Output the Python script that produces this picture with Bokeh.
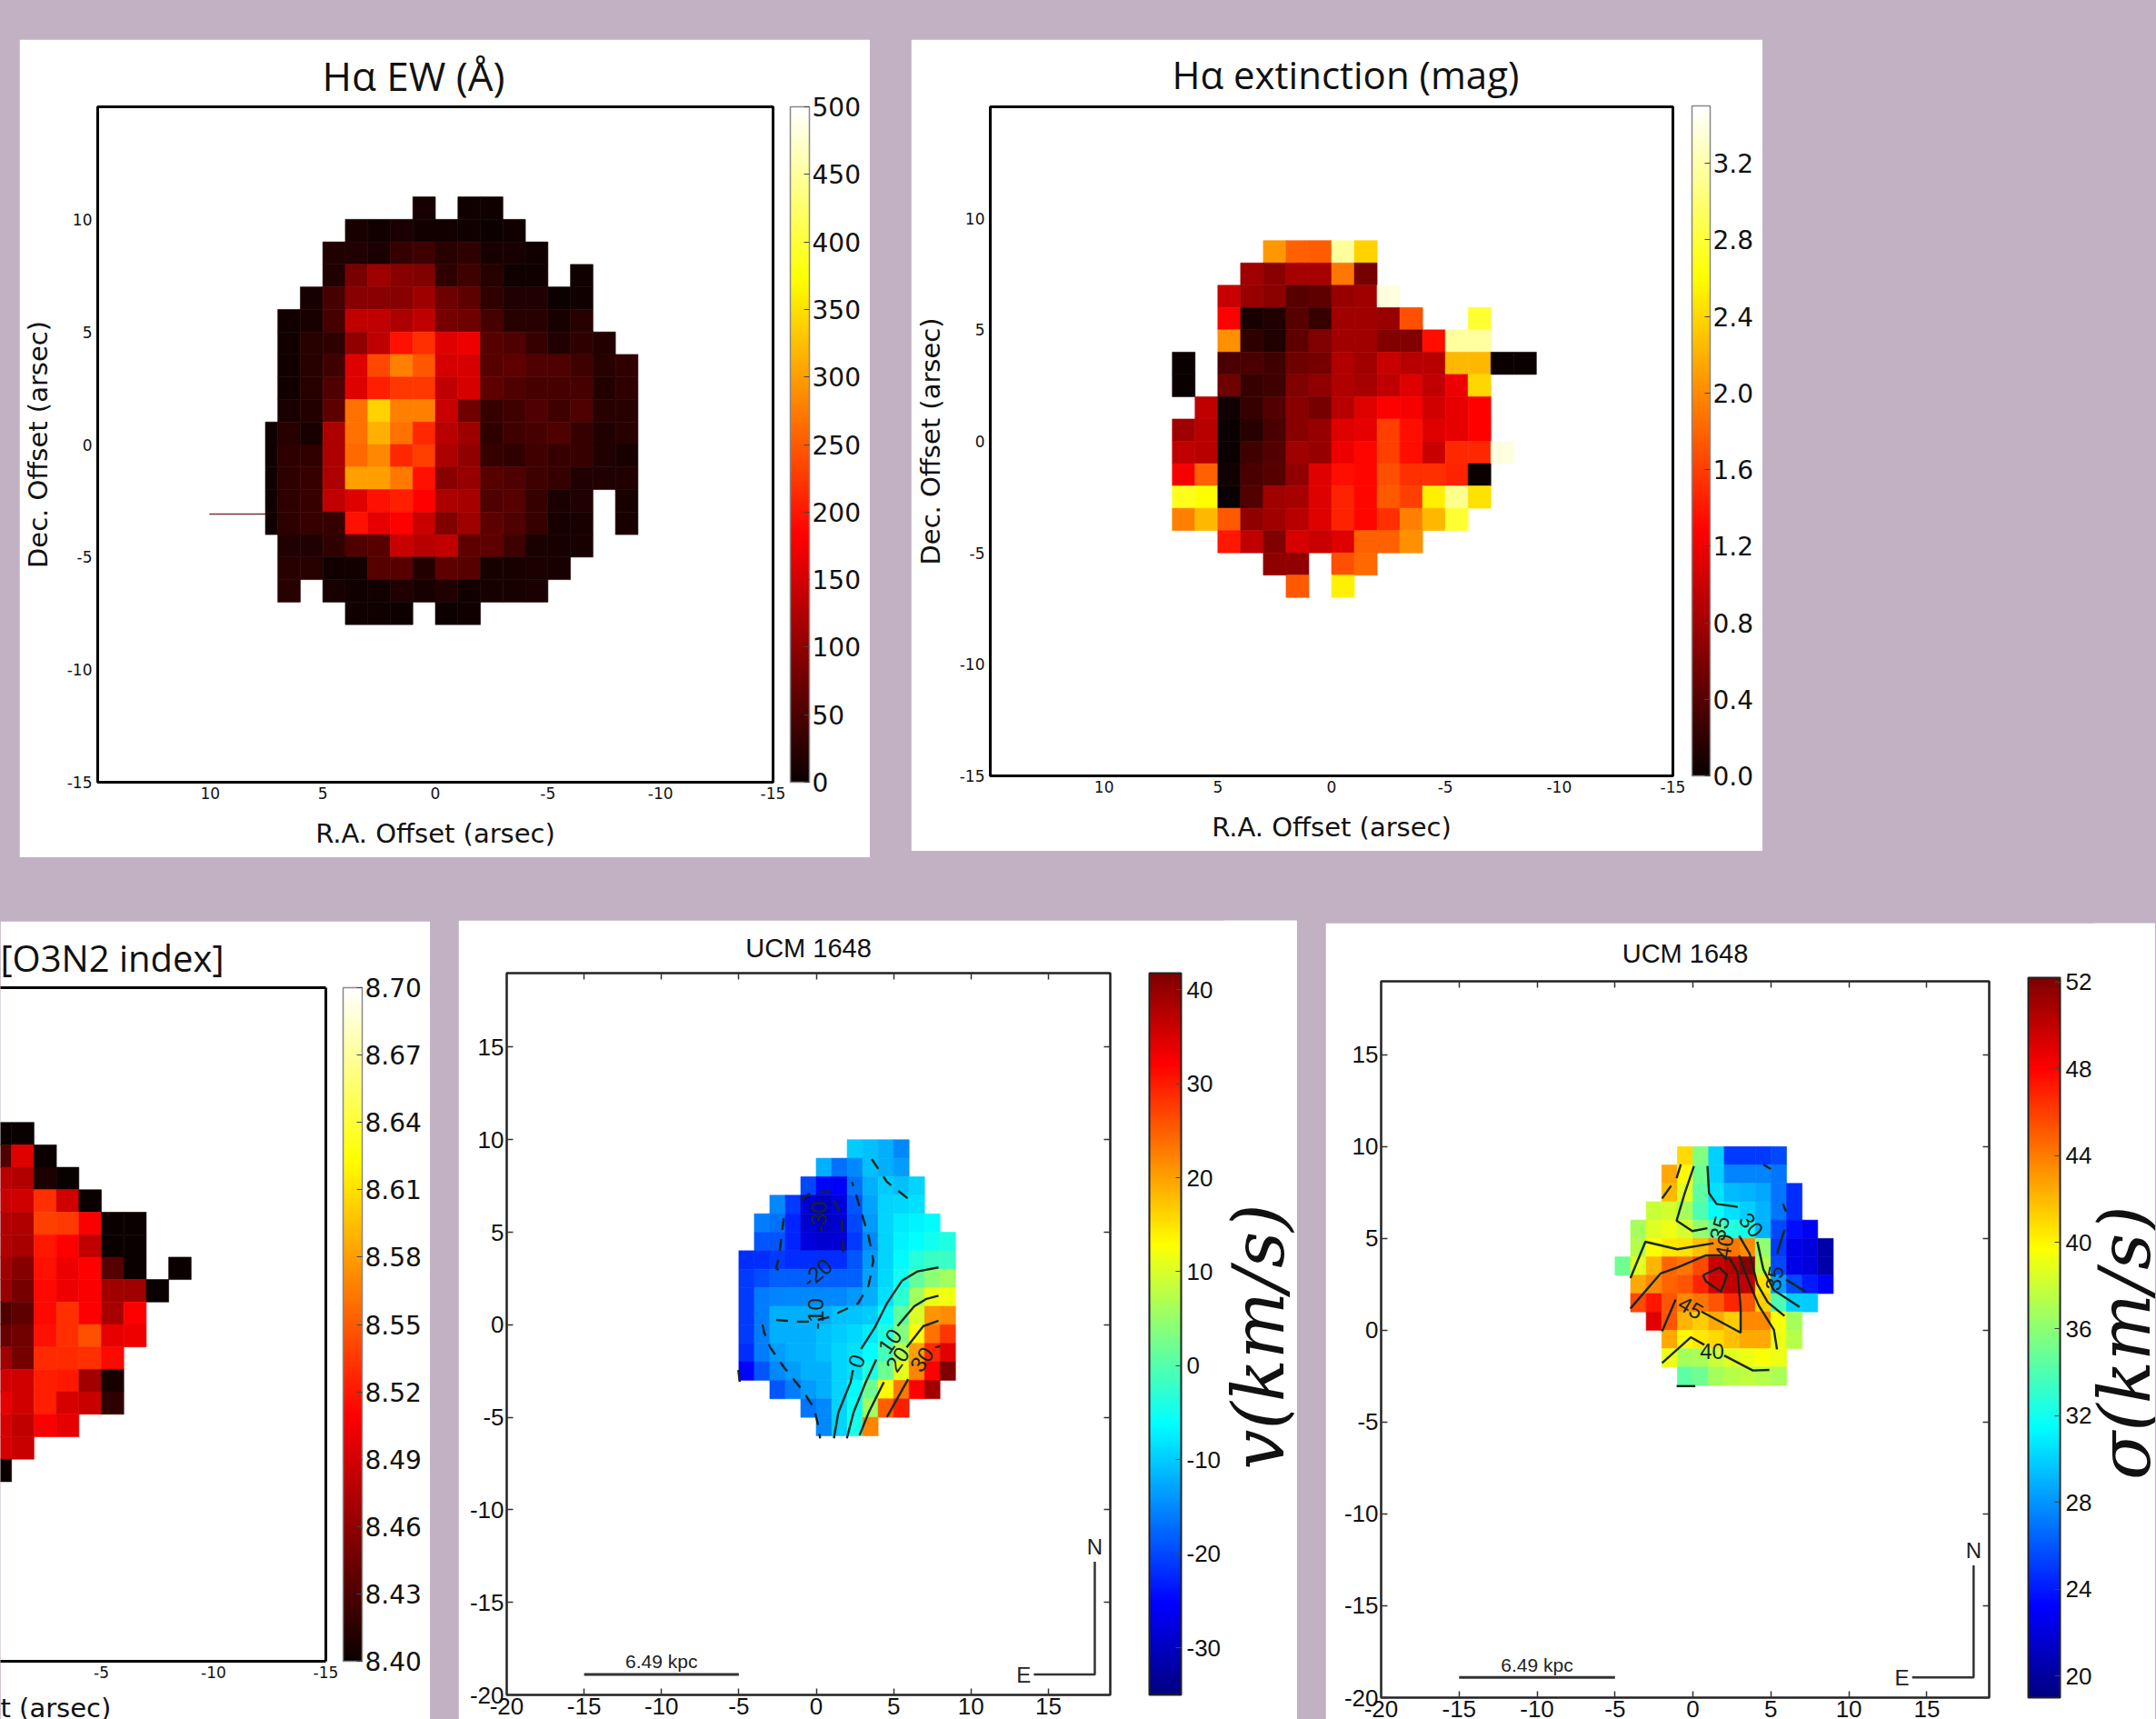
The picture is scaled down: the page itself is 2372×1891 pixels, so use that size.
from bokeh.plotting import figure
from bokeh.layouts import column, row
from bokeh.models import (Range1d, LinearColorMapper, ColorBar, FixedTicker, LinearAxis, Title,
                          ColumnDataSource, PrintfTickFormatter)
from bokeh.transform import transform
from bokeh.core.properties import value
from bokeh.embed import file_html
from bokeh.resources import INLINE

N = None

# ---------- data ----------
EW_X_EDGES = [7.55, 7, 6, 5, 4, 3, 2, 1, 0, -1, -2, -3, -4, -5, -6, -7, -8, -9]
EW_Y_TOP = 11
EW = [
    [N, N, N, N, N, N, N, 10, N, 5, 5, N, N, N, N, N, N],
    [N, N, N, N, 10, 7, 13, 7, 6, 5, 3, 5, N, N, N, N, N],
    [N, N, N, 16, 16, 13, 34, 40, 22, 28, 10, 10, 5, N, N, N, N],
    [N, N, N, 16, 83, 111, 94, 88, 28, 40, 22, 5, 5, N, 5, N, N],
    [N, N, 10, 46, 94, 94, 94, 111, 76, 64, 28, 16, 16, 3, 5, N, N],
    [N, 7, 10, 46, 135, 135, 123, 135, 82, 76, 46, 22, 22, 10, 22, N, N],
    [N, 7, 22, 28, 100, 135, 194, 218, 159, 171, 58, 52, 34, 16, 28, 19, N],
    [N, 7, 22, 40, 159, 236, 278, 248, 153, 153, 58, 64, 52, 52, 40, 22, 28],
    [N, 7, 22, 52, 159, 206, 224, 224, 135, 153, 64, 52, 46, 46, 46, 19, 28],
    [N, 13, 19, 64, 266, 338, 278, 278, 141, 76, 34, 40, 52, 40, 52, 22, 22],
    [5, 22, 10, 123, 266, 314, 266, 212, 129, 111, 28, 40, 46, 52, 34, 16, 22],
    [5, 28, 28, 123, 260, 284, 212, 230, 123, 100, 34, 28, 40, 34, 34, 16, 10],
    [5, 28, 34, 123, 302, 302, 272, 194, 94, 105, 58, 52, 40, 34, 16, 16, 16],
    [5, 28, 34, 135, 159, 194, 206, 182, 123, 117, 52, 58, 34, 13, 16, N, 10],
    [5, 28, 34, 34, 194, 165, 182, 141, 88, 111, 64, 52, 34, 10, 10, N, 10],
    [N, 16, 16, 28, 52, 58, 141, 129, 135, 64, 64, 40, 13, 10, 10, N, N],
    [N, 22, 22, 7, 7, 58, 58, 19, 64, 58, 10, 10, 13, 10, N, N, N],
    [N, 22, N, 10, 5, 7, 16, 10, 16, 5, 10, 10, 13, N, N, N, N],
    [N, N, N, N, 5, 5, 3, N, 3, 5, N, N, N, N, N, N, N],
]
EW_STRAY_X = [10.04, 7.55]
EW_STRAY_Y = [-3.09, -3.09]

EXT_X_EDGES = [7, 6, 5, 4, 3, 2, 1, 0, -1, -2, -3, -4, -5, -6, -7, -8, -9]
EXT_Y_TOP = 9
EXT = [
    [N, N, N, N, 2.07, 1.78, 1.75, 3.15, 2.37, N, N, N, N, N, N, N],
    [N, N, N, .78, .66, .82, .82, 1.9, .57, N, N, N, N, N, N, N],
    [N, N, .99, .74, .68, .41, .45, .74, .78, 3.39, N, N, N, N, N, N],
    [N, N, 1.28, .07, .115, .41, .24, .78, .78, .74, 1.69, N, N, 2.78, N, N],
    [N, N, 2.03, .2, .115, .45, .62, .78, .78, .62, .62, 1.34, 3.15, 3.15, N, N],
    [.01, N, .33, .33, .28, .53, .57, .87, .78, .99, .91, .91, 2.24, 2.24, .01, .01],
    [.01, N, .53, .24, .28, .62, .7, .87, .82, .95, 1.12, .95, 1.2, 2.4, N, N],
    [N, .95, .03, .24, .37, .66, .57, .91, 1.12, 1.28, 1.24, 1.03, 1.16, 1.28, N, N],
    [.78, .91, 0, .16, .33, .66, .74, 1.12, 1.16, 1.61, 1.34, 1.12, 1.16, 1.28, N, N],
    [.95, .91, 0, .28, .37, .78, .74, 1.2, 1.3, 1.61, 1.34, .99, 1.48, 1.48, 3.39, N],
    [1.24, 1.78, .03, .33, .41, .7, 1.12, 1.34, 1.3, 1.69, 1.53, 1.53, 1.45, .01, N, N],
    [2.7, 2.61, 0, .37, .78, .82, 1.12, 1.45, 1.3, 1.74, 1.61, 2.53, 3.1, 2.45, N, N],
    [1.95, 2.24, 1.74, .7, .78, .91, 1.12, 1.45, 1.3, 1.53, 1.95, 2.24, 2.78, N, N, N],
    [N, N, 1.4, .95, .62, 1.08, .99, 1.12, 1.78, 1.78, 2.03, N, N, N, N, N],
    [N, N, N, N, .7, .7, N, 1.69, 1.82, N, N, N, N, N, N, N],
    [N, N, N, N, N, 1.74, N, 2.53, N, N, N, N, N, N, N, N],
]

O3N2_X_EDGES = [0, -1, -2, -3, -4, -5, -6, -7, -8, -9]
O3N2_Y_TOP = 9
O3N2 = [
    [8.400, 8.400, N, N, N, N, N, N, N],
    [8.431, 8.496, 8.400, N, N, N, N, N, N],
    [8.478, 8.474, 8.409, 8.400, N, N, N, N, N],
    [8.485, 8.489, 8.531, 8.489, 8.400, N, N, N, N],
    [8.474, 8.474, 8.538, 8.535, 8.507, 8.400, 8.400, N, N],
    [8.474, 8.471, 8.520, 8.510, 8.482, 8.400, 8.400, N, N],
    [8.467, 8.456, 8.517, 8.503, 8.510, 8.435, 8.400, N, 8.400],
    [8.463, 8.449, 8.513, 8.503, 8.507, 8.467, 8.467, 8.400, N],
    [8.431, 8.438, 8.513, 8.531, 8.510, 8.471, 8.510, N, N],
    [8.442, 8.446, 8.517, 8.531, 8.545, 8.499, 8.503, N, N],
    [8.467, 8.449, 8.528, 8.528, 8.531, 8.513, N, N, N],
    [8.489, 8.489, 8.524, 8.520, 8.467, 8.406, N, N, N],
    [8.499, 8.489, 8.524, 8.492, 8.485, 8.417, N, N, N],
    [8.492, 8.482, 8.507, 8.499, N, N, N, N, N],
    [8.492, 8.485, N, N, N, N, N, N, N],
    [8.400, N, N, N, N, N, N, N, N],
]

VEL_X_EDGES = [-5, -4, -3, -2, -1, 0, 1, 2, 3, 4, 5, 6, 7, 8, 9]
VEL_Y_TOP = 10
VEL = [
    [N, N, N, N, N, N, N, -10, -11, -12, -15, N, N, N],
    [N, N, N, N, N, -12, -17, -15, -11, -12, -13.5, N, N, N],
    [N, N, N, N, -20, -25, -26, -17, -12, -10, -11, -9.5, N, N],
    [N, N, -15, -21, -29, -30.5, -28, -19, -13, -9.5, -9, -8.5, N, N],
    [N, -16, -17, -22.5, -29, -30, -29, -20, -14, -9.5, -7.5, -7, -6.5, N],
    [N, -19, -19, -22.5, -28, -29, -28.5, -21, -15, -9.5, -7, -6, -5, -4],
    [-22, -22, -21, -22, -22, -22, -22, -19, -14, -9.5, -6.5, -3.5, -2, -2],
    [-21, -19.5, -18, -18, -18, -18, -18, -18, -13, -9, -5, 1, 4.5, 6],
    [-21, -16, -15.5, -15, -15, -15, -15, -14, -12, -8.5, -3, 6, 11.5, 12],
    [-21, -16, -12, -12, -12, -12, -11, -10.5, -10, -6.5, 1, 10, 21, 21.5],
    [-21, -16, -12, -12, -12, -11, -10, -9, -7.5, -4, 3.5, 13, 23.5, 28],
    [-22, -16, -13.5, -12, -12, -11, -9.5, -8.5, -6, -1, 7, 20, 29, 34.5],
    [-25, -19, -15, -13.5, -12, -12, -9.5, -8.5, -4, 2, 11, 22, 32, 42],
    [N, N, -19, -16, -13.5, -12, -9.5, -6.5, 2, 13, 23, 32, 39, N],
    [N, N, N, N, -16.5, -15, -9.5, -5.5, 6, 25, 30, N, N, N],
    [N, N, N, N, N, -15, -9.5, -4.5, 22, N, N, N, N, N],
]
VEL_SOLID_X = [[1.14, 1.43, 2.22, 2.37], [2.9, 3.78, 4.57, 5.55, 6.53, 7.9], [1.98, 2.41, 3.2, 3.88],
               [5.25, 6.33, 7.12, 7.9], [2.8, 3.39, 4.37], [5.84, 6.92, 7.9], [4.57, 5.94], [7.7, 8.0]]
VEL_SOLID_Y = [[-6.14, -4.74, -3.1, -2.45], [-1.3, -.15, 1.16, 2.39, 2.88, 3.1], [-6.14, -4.74, -3.1, -1.87],
               [-.07, 1.0, 1.4, 1.57], [-5.97, -4.74, -3.1], [-1.22, -.07, .22], [-4.99, -2.94], [-1.22, -1.17]]
VEL_DASH_X = [[-3.47, -3.37, -2.98, -2.1, -.92, -.14, .16, .25],
              [-2.59, -1.12, -.33, .84, 2.71, 3.39, 3.69, 3.39, 2.8, 2.31],
              [3.59, 4.57, 5.94], [-2.1, -2.39, -2.59, -2.1],
              [-1.02, -.33, .84, 1.63, 1.76], [-5.04, -4.94]]
VEL_DASH_Y = [[.01, -.4, -1.22, -2.28, -3.51, -4.5, -5.56, -6.14],
              [.26, .17, .17, .42, 1.16, 2.14, 3.45, 4.76, 6.4, 7.72],
              [8.95, 7.72, 6.81], [5.75, 3.78, 3.04, 2.8],
              [6.73, 7.14, 7.22, 5.91, 3.78], [-2.45, -3.1]]
VEL_LABELS = ["-20", "-10", "0", "10", "20", "30", "-30"]
VEL_LABEL_X = [.06, -.04, 2.6, 4.76, 5.25, 6.82, .16]
VEL_LABEL_Y = [2.8, .58, -1.96, -.89, -1.87, -1.87, 5.83]
VEL_LABEL_DEG = [40, 90, 70, 55, 55, 55, 90]

SIG_X_EDGES = [-5, -4, -3, -2, -1, 0, 1, 2, 3, 4, 5, 6, 7, 8, 9]
SIG_Y_TOP = 10
SIG = [
    [N, N, N, N, 41, 35.6, 30, 25, 25, 25, 25.5, N, N, N],
    [N, N, N, 42.5, 40, 35, 30, 27.5, 27.5, 27.5, 27, N, N, N],
    [N, N, N, 42, 38.8, 34.5, 30.5, 29.3, 29, 28.6, 27, 24.6, N, N],
    [N, N, 38, 38.3, 36.8, 34, 31.5, 30.5, 30, 29, 27, 24.6, N, N],
    [N, 36.8, 38.6, 39.2, 38.3, 36.2, 34.5, 32.5, 32, 29, 25.5, 23.6, 23, N],
    [N, 37.3, 39.5, 40.5, 40.6, 41.8, 43.6, 44.2, 43.4, 36.2, 25, 22.5, 22, 20.4],
    [35, 38.8, 42.2, 44.8, 44.2, 45.7, 49.7, 50.5, 51.7, 37.3, 25.5, 22.5, 22, 20.4],
    [N, 42.5, 43.6, 44.8, 45.2, 46.8, 49.5, 50, 50, 40.6, 28.3, 25.5, 24, 23.2],
    [N, 45.7, 47.4, 45.2, 43.6, 44.2, 45.2, 46.8, 45.2, 41.2, 34, 30, 29.8, N],
    [N, N, 49, 45.2, 42.2, 41.4, 42.5, 41.4, 43.6, 43.6, 39.5, 36.8, N, N],
    [N, N, N, 42.5, 40, 40.4, 41, 41.8, 42.5, 42.5, 39.2, 37.3, N, N],
    [N, N, N, 39.2, 36.8, 37, 38, 38.7, 39.2, 39.5, 39.2, N, N, N],
    [N, N, N, N, 34.5, 35, 36.8, 37.3, 37.6, 37.3, 37, N, N, N],
]
SIG_LINES_X = [[-1.98, -1.4], [-1.05, -.78], [.06, -.53, -1.05, -.04, .93], [.93, 1.03, 1.51, 2.87],
               [-4.01, -3.05, -1.0, 1.32], [-4.01, -2.08, -1.0, .83, 1.9, 2.19],
               [.64, 1.7, 2.19, 1.8, .83, .64], [2.29, 2.87, 3.06, 3.06, .54], [-1.98, -1.11],
               [2.96, 3.64, 4.22, 5.19, 5.39], [2.96, 3.64, 4.13, 4.8, 5.87], [4.13, 4.51, 5.19, 6.84],
               [5.97, 7.23], [5.39, 5.87], [5.77, 5.97], [4.51, 5.0], [-1.98, -.14, .73], [2.0, 3.84, 4.9],
               [-1.05, .15]]
SIG_LINES_Y = [[7.18, 7.87], [8.28, 9.03], [8.94, 7.46, 5.97, 5.4, 5.56], [8.94, 7.46, 6.88, 6.72],
               [2.84, 4.82, 4.41, 4.74], [1.19, 3.09, 3.42, 4.08, 4.08, 3.83],
               [3.0, 3.42, 3.0, 2.1, 2.67, 3.0], [4.0, 3.17, 1.19, -.13, 1.02], [-.05, 1.68],
               [4.08, 2.51, 1.35, .03, -1.04], [5.15, 4.16, 2.51, 1.52, .78], [4.82, 3.33, 2.18, 1.27],
               [2.76, 2.1], [4.16, 5.48], [6.88, 6.47], [9.03, 8.78], [-1.78, -.38, -.79], [-1.37, -2.19, -2.16],
               [-3.04, -3.04]]
SIG_LABELS = ["35", "40", "30", "35", "45", "40"]
SIG_LABEL_X = [1.7, 2.0, 3.74, 5.23, -.14, 1.22]
SIG_LABEL_Y = [5.56, 4.57, 5.73, 2.84, 1.24, -1.12]
SIG_LABEL_DEG = [75, 80, -50, 80, -30, 0]

TOP_TICKS = [10, 5, 0, -5, -10, -15]
LOW_TICKS = [-20, -15, -10, -5, 0, 5, 10, 15]
EW_BAR = [0, 50, 100, 150, 200, 250, 300, 350, 400, 450, 500]
EXT_BAR = [0.0, 0.4, 0.8, 1.2, 1.6, 2.0, 2.4, 2.8, 3.2]
O3N2_BAR = [8.40, 8.43, 8.46, 8.49, 8.52, 8.55, 8.58, 8.61, 8.64, 8.67, 8.70]
VEL_BAR = [-30, -20, -10, 0, 10, 20, 30, 40]
SIG_BAR = [20, 24, 28, 32, 36, 40, 44, 48, 52]

# ---------- styles ----------
BG = "#c1b1c3"
SANS = "DejaVu Sans"
SLIDE = "Open Sans"
PLAIN = "Liberation Sans"
SERIF = "DejaVu Serif"


def clamp(a):
    return max(0.0, min(1.0, a))


def to_hex(r, g, b):
    return "#%02x%02x%02x" % (round(clamp(r) * 255), round(clamp(g) * 255), round(clamp(b) * 255))


HOT = [to_hex(0.0416 + f / 0.365 * 0.9584, (f - 0.365) / 0.381, (f - 0.746) / 0.254)
       for f in (i / 255 for i in range(256))]
JET = [to_hex(1.5 - abs(4 * f - 3), 1.5 - abs(4 * f - 2), 1.5 - abs(4 * f - 1))
       for f in (i / 255 for i in range(256))]


def cells(p, grid, x_edges, y_top, mapper):
    left, right, top, bottom, val = [], [], [], [], []
    for i, rw in enumerate(grid):
        for j, v in enumerate(rw):
            if v is None:
                continue
            left.append(x_edges[j])
            right.append(x_edges[j + 1])
            top.append(y_top - i)
            bottom.append(y_top - i - 1)
            val.append(v)
    src = ColumnDataSource(dict(left=left, right=right, top=top, bottom=bottom, val=val))
    p.quad(left="left", right="right", top="top", bottom="bottom", source=src,
           fill_color=transform("val", mapper), line_color=transform("val", mapper), line_width=0.6)


def base(w, h, xr, yr, L, R, T, B, margin):
    p = figure(width=w, height=h, x_range=Range1d(*xr), y_range=Range1d(*yr),
               toolbar_location=None, output_backend="svg", x_axis_location=None, y_axis_location=None,
               background_fill_color="white", border_fill_color="white",
               min_border_left=L, min_border_right=R, min_border_top=T, min_border_bottom=B, margin=margin)
    p.grid.visible = False
    return p


def overrides(ts):
    return {t: str(t) for t in ts}


def axis(ticks, font, size, standoff, label=None, label_size=None, label_standoff=0, tick=False):
    a = LinearAxis(ticker=FixedTicker(ticks=ticks), major_label_overrides=overrides(ticks),
                   major_label_text_font=font, major_label_text_font_size=f"{size}px",
                   major_label_text_color="#111111", major_label_standoff=standoff,
                   axis_line_color=None, minor_tick_line_color=None)
    a.major_tick_in = 7 if tick else 0
    a.major_tick_out = 0
    a.major_tick_line_color = "#333333" if tick else None
    a.major_tick_line_width = 1.5
    if label:
        a.axis_label = label
        a.axis_label_text_font = font
        a.axis_label_text_font_size = f"{label_size}px"
        a.axis_label_text_font_style = "normal"
        a.axis_label_text_color = "#111111"
        a.axis_label_standoff = label_standoff
    return a


def bar(mapper, ticks, fmt, font, size, width, height, gap, standoff, line, lw):
    return ColorBar(color_mapper=mapper, ticker=FixedTicker(ticks=ticks),
                    formatter=PrintfTickFormatter(format=fmt),
                    width=width, height=height, padding=0, margin=0, location=(gap, 0),
                    major_label_text_font=font, major_label_text_font_size=f"{size}px",
                    major_label_text_color="#111111", label_standoff=standoff,
                    major_tick_line_color="#444444", major_tick_in=6, major_tick_out=0,
                    minor_tick_line_color=None, bar_line_color=line, bar_line_width=lw)


def title(p, text, font, size, offset, standoff, align="center"):
    p.title.text = text
    p.title.text_font = font
    p.title.text_font_size = f"{size}px"
    p.title.text_font_style = "normal"
    p.title.text_color = "#111111"
    p.title.align = align
    p.title.offset = offset
    p.title.standoff = standoff


def label_strip(w, h, margin, text, fx, fy, size):
    s = figure(width=w, height=h, x_range=Range1d(0, 1), y_range=Range1d(0, 1), toolbar_location=None,
               output_backend="svg", x_axis_location=None, y_axis_location=None, background_fill_color="white",
               border_fill_color="white", outline_line_color=None,
               min_border_left=0, min_border_right=0, min_border_top=0, min_border_bottom=0, margin=margin)
    s.grid.visible = False
    s.text([fx], [fy], text=[text], angle=90, angle_units="deg", text_align="center", text_baseline="middle",
           text_font=value(SERIF), text_font_style="italic", text_font_size=f"{size}px", text_color="#111111")
    return s


# ---------- panel 1 ----------
m1 = LinearColorMapper(palette=HOT, low=0, high=500, nan_color="white")
p1 = base(936, 900, (15, -15), (-15, 15), 85, 107, 74, 83, (43, 0, 69, 21))
p1.outline_line_color = "black"
p1.outline_line_width = 3
p1.add_layout(axis(TOP_TICKS, SANS, 17, 5, "R.A. Offset (arsec)", 29, 18), "below")
p1.add_layout(axis(TOP_TICKS, SANS, 17, 6, "Dec. Offset (arsec)", 29, 12), "left")
cells(p1, EW, EW_X_EDGES, EW_Y_TOP, m1)
p1.line(EW_STRAY_X, EW_STRAY_Y, line_color="#7a3030", line_width=1.5)
p1.add_layout(bar(m1, EW_BAR, "%d", SANS, 28, 21, 743, 19, 3, "#888888", 1.5), "right")
title(p1, "Hα EW (Å)", SLIDE, 44, 247, 10, "left")

# ---------- panel 2 ----------
m2 = LinearColorMapper(palette=HOT, low=0, high=3.5)
p2 = base(937, 893, (15, -15), (-15, 15), 87, 99, 73, 83, (43, 0, 76, 45))
p2.outline_line_color = "black"
p2.outline_line_width = 3
p2.add_layout(axis(TOP_TICKS, SANS, 17, 5, "R.A. Offset (arsec)", 29, 18), "below")
p2.add_layout(axis(TOP_TICKS, SANS, 17, 6, "Dec. Offset (arsec)", 29, 12), "left")
cells(p2, EXT, EXT_X_EDGES, EXT_Y_TOP, m2)
p2.add_layout(bar(m2, EXT_BAR, "%.1f", SANS, 28, 20, 737, 21, 3, "#888888", 1.5), "right")
title(p2, "Hα extinction (mag)", SLIDE, 42, 200, 15, "left")

# ---------- panel 3 ----------
m3 = LinearColorMapper(palette=HOT, low=8.40, high=8.70)
p3 = base(473, 896, (-0.506, -15), (-15, 15), 0, 115, 73, 82, (1, 0, 0, 0))
p3.outline_line_color = None
for side in ("above", "right"):
    a = LinearAxis(ticker=FixedTicker(ticks=[]), axis_line_color="black", axis_line_width=3,
                   major_tick_line_color=None, minor_tick_line_color=None,
                   major_label_text_font_size="1px", major_label_standoff=0)
    p3.add_layout(a, side)
ax3 = axis([-5, -10, -15], SANS, 17, 5)
ax3.axis_line_color = "black"
ax3.axis_line_width = 3
p3.add_layout(ax3, "below")
p3.add_layout(Title(text="t (arsec)", align="left", offset=0, standoff=22, text_font=SANS, text_font_size="29px",
                    text_font_style="normal", text_color="#111111"), "below")
cells(p3, O3N2, O3N2_X_EDGES, O3N2_Y_TOP, m3)
p3.add_layout(bar(m3, O3N2_BAR, "%.2f", SANS, 28, 21, 741, 19, 3, "#888888", 1.5), "right")
title(p3, "[O3N2 index]", SLIDE, 40, 0, 11, "left")


def lower(p, ticks):
    p.outline_line_color = "#222222"
    p.outline_line_width = 2.5
    p.add_layout(axis(ticks, PLAIN, 26, 3, tick=True), "below")
    p.add_layout(axis(ticks, PLAIN, 26, 3, tick=True), "left")
    for side in ("above", "right"):
        a = LinearAxis(ticker=FixedTicker(ticks=ticks), axis_line_color=None,
                       major_tick_line_color="#333333", major_tick_in=7, major_tick_out=0,
                       minor_tick_line_color=None, major_tick_line_width=1.5,
                       major_label_overrides={t: "" for t in ticks},
                       major_label_text_font_size="1px", major_label_standoff=0)
        p.add_layout(a, side)


def furniture(p):
    p.line([-15, -5], [-18.9, -18.9], line_color="#333333", line_width=3)
    p.line([14.06, 18.0, 18.0], [-18.9, -18.9, -12.8], line_color="#333333", line_width=2.5)
    for x, y, t, s in ((-10, -18.2, "6.49 kpc", 21), (18.0, -12.0, "N", 24), (13.4, -18.9, "E", 24)):
        p.text([x], [y], text=[t], text_align="center", text_baseline="middle",
               text_font=value(PLAIN), text_font_size=f"{s}px", text_color="#222222")


# ---------- panel 4 ----------
m4 = LinearColorMapper(palette=JET, low=-35, high=41.75)
p4 = base(843, 879, (-20, 19), (-20, 19), 53, 126, 58, 27, (0, 0, 0, 31))
lower(p4, LOW_TICKS)
cells(p4, VEL, VEL_X_EDGES, VEL_Y_TOP, m4)
p4.multi_line(VEL_SOLID_X, VEL_SOLID_Y, line_color="#17261c", line_width=2.4)
p4.multi_line(VEL_DASH_X, VEL_DASH_Y, line_color="#17261c", line_width=2.4, line_dash="13 10")
p4.text(VEL_LABEL_X, VEL_LABEL_Y, text=VEL_LABELS, angle=VEL_LABEL_DEG, angle_units="deg", text_align="center",
        text_baseline="middle", text_font=value(PLAIN), text_font_size="24px", text_color="#17261c")
furniture(p4)
p4.add_layout(bar(m4, VEL_BAR, "%d", PLAIN, 26, 35, 794, 43, 6, "#222222", 2), "right")
title(p4, "UCM 1648", PLAIN, 29, 0, 24)
s4 = label_strip(82, 879, (0, 0, 0, -1), "v(km/s)", 0.47, 0.479, 78)

# ---------- panel 5 ----------
m5 = LinearColorMapper(palette=JET, low=19, high=52.2)
p5 = base(846, 876, (-20, 19), (-20, 19), 61, 115, 64, 20, (3, 0, 0, 30))
lower(p5, LOW_TICKS)
cells(p5, SIG, SIG_X_EDGES, SIG_Y_TOP, m5)
p5.multi_line(SIG_LINES_X, SIG_LINES_Y, line_color="#17261c", line_width=2.4)
p5.text(SIG_LABEL_X, SIG_LABEL_Y, text=SIG_LABELS, angle=SIG_LABEL_DEG, angle_units="deg", text_align="center",
        text_baseline="middle", text_font=value(PLAIN), text_font_size="24px", text_color="#17261c")
furniture(p5)
p5.add_layout(bar(m5, SIG_BAR, "%d", PLAIN, 26, 35, 792, 43, 6, "#222222", 2), "right")
title(p5, "UCM 1648", PLAIN, 29, 0, 30)
s5 = label_strip(69, 876, (3, 0, 0, -1), "σ(km/s)", 0.51, 0.473, 78)

page = column(row(column(p1), column(p2)), row(column(p3), column(p4), column(s4), column(p5), column(s5)), spacing=0)

html = file_html(page, INLINE)
html = html.replace("</head>", "<style>html,body{margin:0!important;padding:0!important;overflow:hidden;background:%s!important}</style></head>" % BG, 1)
open("out.html", "w").write(html)
